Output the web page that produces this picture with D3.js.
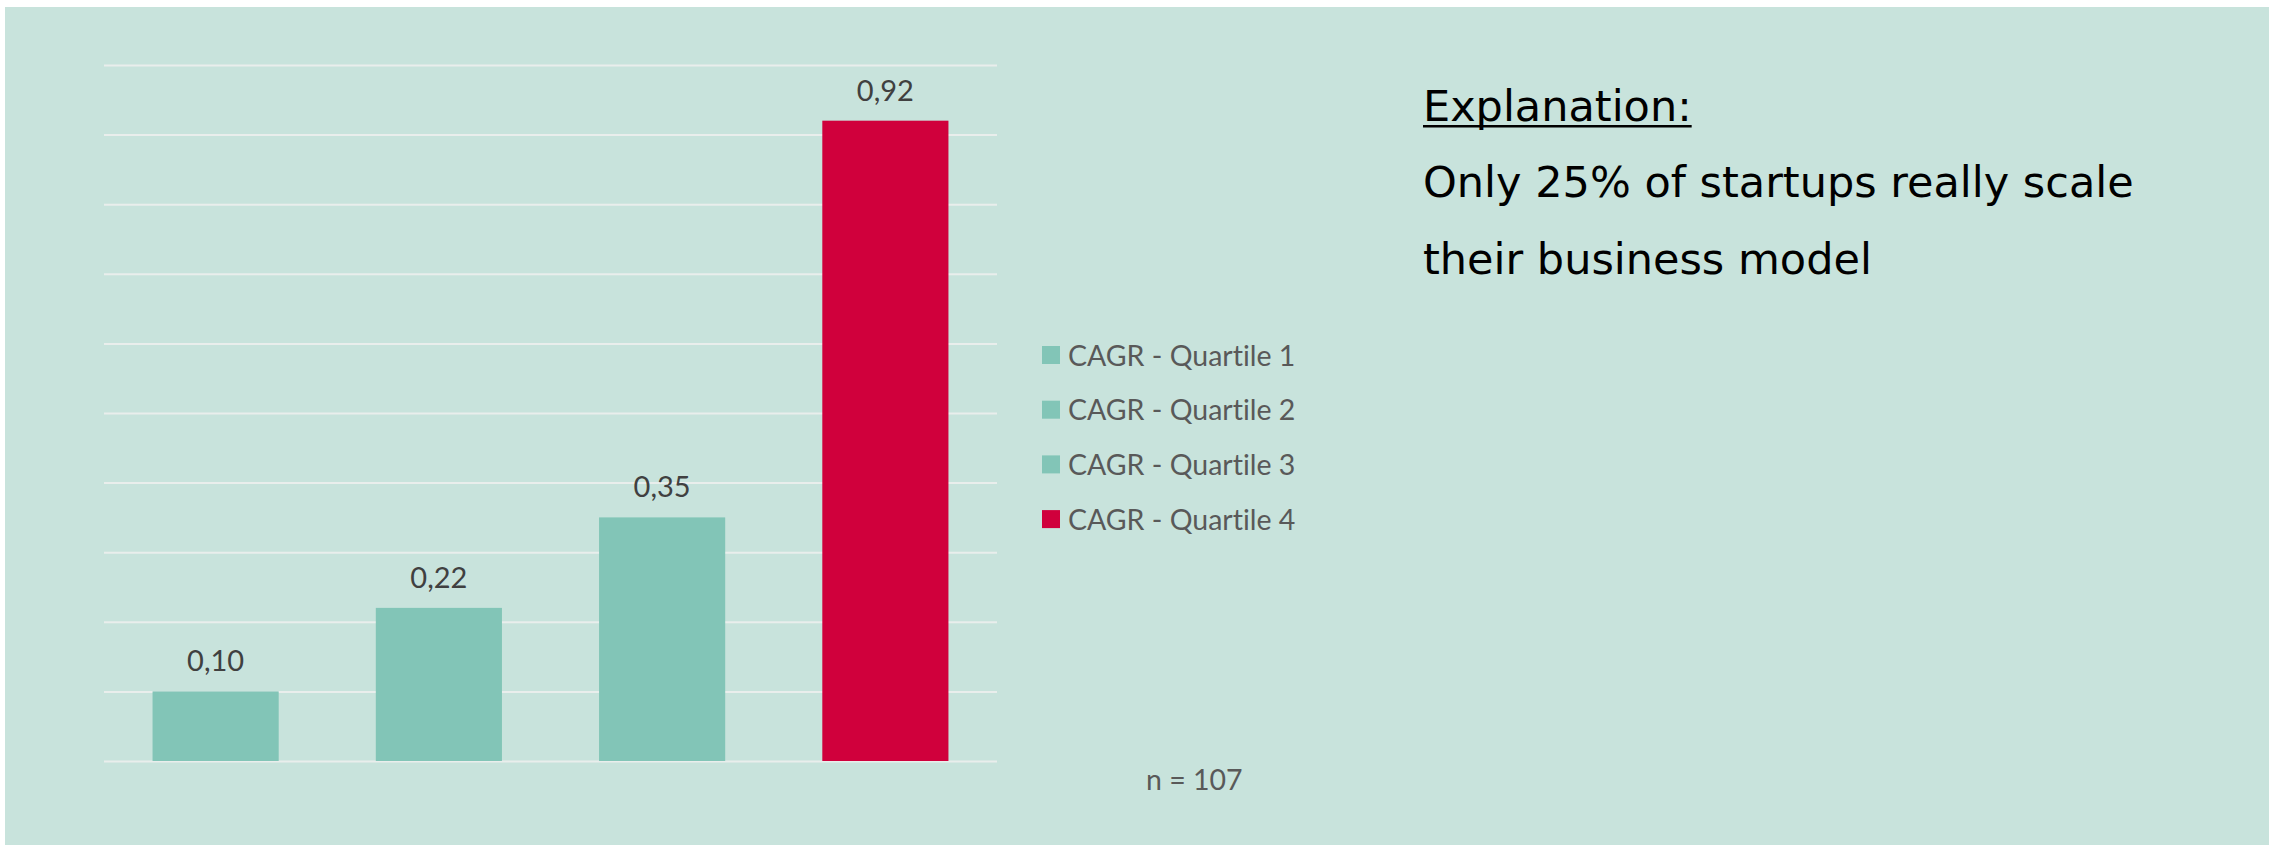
<!DOCTYPE html>
<html>
<head>
<meta charset="utf-8">
<script src="https://cdn.jsdelivr.net/npm/d3@7"></script>
<style>
  html, body { margin: 0; padding: 0; background: #ffffff; }
  svg { display: block; }
  text { font-variant-ligatures: none; font-feature-settings: "liga" 0; }
</style>
</head>
<body>
<svg id="chart" width="2269" height="845"></svg>
<script>
// CAGR by startup quartile
const categories = ["CAGR - Quartile 1", "CAGR - Quartile 2", "CAGR - Quartile 3", "CAGR - Quartile 4"];
const values = [0.10, 0.22, 0.35, 0.92];
const valueLabels = ["0,10", "0,22", "0,35", "0,92"];
const barColors = ["#82c5b7", "#82c5b7", "#82c5b7", "#d0003c"];
const gridTicks = [0, 0.1, 0.2, 0.3, 0.4, 0.5, 0.6, 0.7, 0.8, 0.9, 1.0];
const sampleNote = "n = 107";
const explanationTitle = "Explanation:";
const explanationLines = ["Only 25% of startups really scale", "their business model"];

const W = 2269, H = 845;
const svg = d3.select("#chart");

// panel background with thin white border on top and left
svg.append("rect").attr("x", 0).attr("y", 0).attr("width", W).attr("height", H).attr("fill", "#ffffff");
svg.append("rect").attr("x", 5).attr("y", 7).attr("width", W - 5).attr("height", H - 7).attr("fill", "#c8e3dc");

// plot area
const plot = { left: 104, right: 997, top: 65, bottom: 761 };

const x = d3.scaleBand()
  .domain(categories)
  .range([plot.left, plot.right])
  .paddingInner(0.435)
  .paddingOuter(0.2175);

const y = d3.scaleLinear()
  .domain([0, 1.0])
  .range([plot.bottom, plot.top]);

// horizontal gridlines
const grid = svg.append("g")
  .attr("transform", `translate(${plot.left},0)`)
  .call(d3.axisLeft(y).tickValues(gridTicks).tickSize(-(plot.right - plot.left)).tickFormat(""));
grid.select(".domain").remove();
grid.selectAll(".tick line").attr("stroke", "#e9eeec").attr("stroke-width", 2);

// bars
svg.append("g").selectAll("rect")
  .data(values)
  .join("rect")
  .attr("x", (d, i) => x(categories[i]))
  .attr("y", d => y(d))
  .attr("width", x.bandwidth())
  .attr("height", d => y(0) - y(d))
  .attr("fill", (d, i) => barColors[i]);

// value labels
svg.append("g").selectAll("text")
  .data(values)
  .join("text")
  .attr("x", (d, i) => x(categories[i]) + x.bandwidth() / 2)
  .attr("y", d => y(d) - 20)
  .attr("text-anchor", "middle")
  .attr("font-family", "Lato, 'Open Sans', sans-serif")
  .attr("font-size", 29)
  .attr("fill", "#404040")
  .text((d, i) => valueLabels[i]);

// legend
const legend = svg.append("g").attr("transform", "translate(1042,346)");
const legendRow = 54.7;
const items = legend.selectAll("g")
  .data(categories)
  .join("g")
  .attr("transform", (d, i) => `translate(0,${i * legendRow})`);
items.append("rect")
  .attr("width", 18).attr("height", 18)
  .attr("fill", (d, i) => barColors[i]);
items.append("text")
  .attr("x", 26)
  .attr("y", 19.5)
  .attr("font-family", "Lato, 'Open Sans', sans-serif")
  .attr("font-size", 28.5)
  .attr("fill", "#595959")
  .text(d => d);

// sample size
svg.append("text")
  .attr("x", 1146)
  .attr("y", 790)
  .attr("font-family", "Lato, 'Open Sans', sans-serif")
  .attr("font-size", 28.5)
  .attr("fill", "#595959")
  .text(sampleNote);

// explanation block
const expl = svg.append("g").attr("font-family", "'DejaVu Sans', Verdana, sans-serif").attr("font-size", 43).attr("fill", "#000000");
const title = expl.append("text").attr("x", 1423).attr("y", 121).text(explanationTitle);
const tw = title.node().getComputedTextLength();
expl.append("rect").attr("x", 1423).attr("y", 125).attr("width", tw).attr("height", 2.5).attr("fill", "#000000");
expl.selectAll("text.line")
  .data(explanationLines)
  .join("text")
  .attr("class", "line")
  .attr("x", 1423)
  .attr("y", (d, i) => 197 + i * 77)
  .text(d => d);
</script>
</body>
</html>
